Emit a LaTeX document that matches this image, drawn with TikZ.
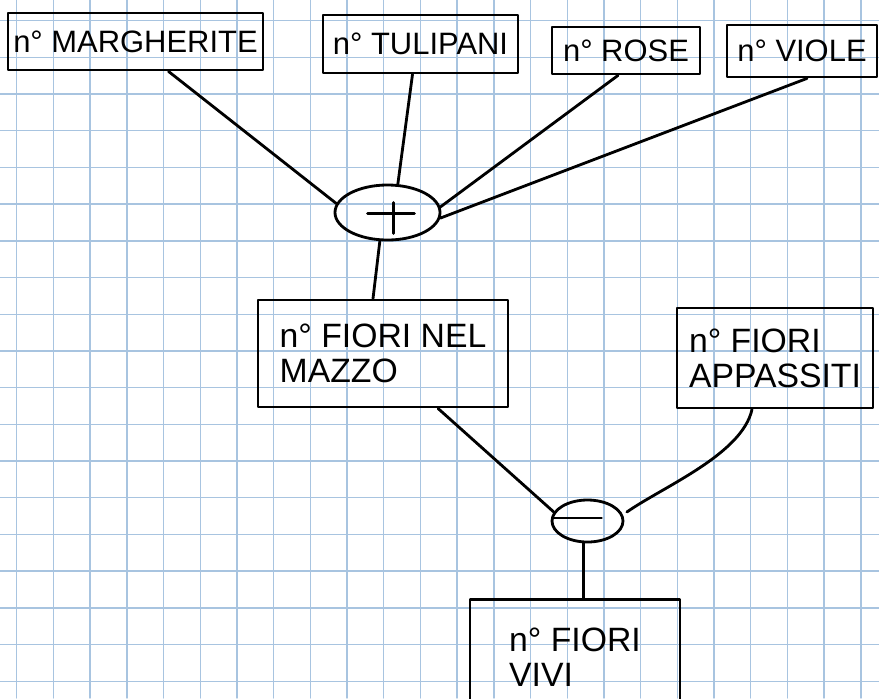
\documentclass[tikz,border=0pt]{standalone}
\usepackage{fontspec}
\setmainfont{Liberation Sans}
\usetikzlibrary{shapes.geometric,calc}
\definecolor{quadretti}{RGB}{168,196,224}
\begin{document}
\begin{tikzpicture}[x=0.025cm, y=-0.025cm, line join=round, line cap=round, font=\fontsize{22}{24}\selectfont,
	scatola/.style={draw, line width=2pt, inner sep=0pt, align=left},
	doppia/.style={scatola, font=\fontsize{24}{25}\selectfont},
	operatore/.style={draw, ellipse, line width=2pt, inner sep=0pt},
	filo/.style={line width=2pt}]
		\useasboundingbox (0,0) rectangle (879,698);
		\fill[white] (0,0) rectangle (879,698);
		\foreach \i in {0,...,23}\draw[quadretti, line width=1pt]({16.7+36.7*\i},0)--({16.7+36.7*\i},698);
		\foreach \j in {0,...,18}\draw[quadretti, line width=1pt](0,{20.6+36.7*\j})--(879,{20.6+36.7*\j});
		\node[scatola, minimum width=6.375cm, minimum height=1.425cm] (margherite) at (135.5,41.5) {n° MARGHERITE};
		\node[scatola, minimum width=4.875cm, minimum height=1.45cm] (tulipani) at (420.5,44) {n° TULIPANI};
		\node[scatola, minimum width=3.7cm, minimum height=1.175cm] (rose) at (626,50.5) {n° ROSE};
		\node[scatola, minimum width=3.75cm, minimum height=1.3cm] (viole) at (802,51) {n° VIOLE};
		\node[operatore, minimum width=2.625cm, minimum height=1.375cm] (somma) at (387.5,212.5) {};
		\node[doppia, minimum width=6.25cm, minimum height=2.675cm] (mazzo) at (383,353.5) {n° FIORI NEL\\ MAZZO};
		\node[doppia, minimum width=4.9cm, minimum height=2.5cm] (appassiti) at (775,358) {n° FIORI\\ APPASSITI};
		\node[operatore, minimum width=1.775cm, minimum height=1.05cm] (differenza) at (587.5,521) {};
		\node[doppia, anchor=north, minimum width=5.25cm, minimum height=2.875cm] (vivi) at (575,598) {n° FIORI\\ VIVI};
		\draw[filo]($(somma)+(-20,1)$)--++(47,0);
		\draw[filo]($(somma)+(6,-10)$)--++(0,31);
		\draw[filo]($(differenza)+(-33,-3)$)--++(47,0);
		\draw[filo]($(margherite.south)+(33,0)$)--(somma.170);
		\draw[filo]($(tulipani.south)+(-8,0)$)--(somma.70);
		\draw[filo]($(rose.south)+(-8,0)$)--(somma.6);
		\draw[filo]($(viole.south)+(5,0)$)--(somma.-6);
		\draw[filo](somma.-105)--($(mazzo.north)+(-10,0)$);
		\draw[filo]($(mazzo.south)+(55,0)$)--(differenza.165);
		\draw[filo, shorten >=0.12cm]($(appassiti.south)+(-23,0)$) .. controls +(-10,45) and +(40,-28) .. (differenza.10);
		\draw[filo](differenza.-100)--(differenza.-100 |- vivi.north);
		
	\end{tikzpicture}
\end{document}
